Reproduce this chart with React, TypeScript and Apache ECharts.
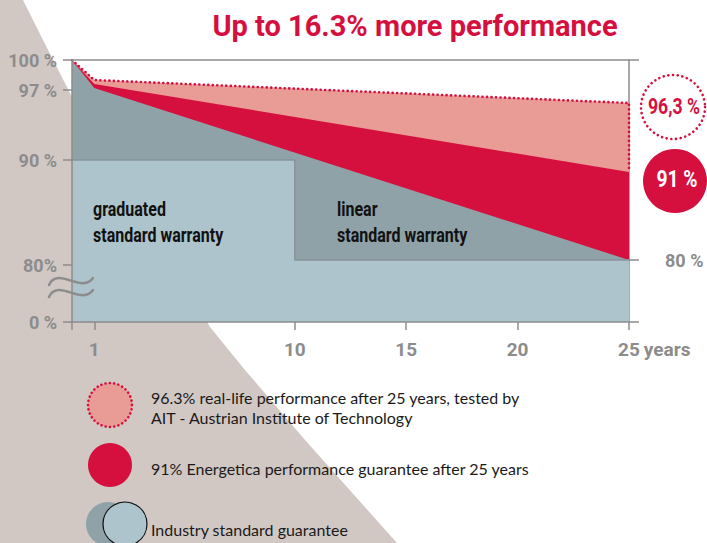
import React, { useEffect, useRef } from 'react';
import * as echarts from 'echarts';

// ---- data ----
const xTickYears = [0, 1, 10, 15, 20, 25];
const xLabelYears = [1, 10, 15, 20, 25];
const realLifeLine = [[0, 100], [1, 98.0], [25, 95.7], [25, 88.8]];
const energeticaLine = [[0, 100], [1, 97.6], [25, 88.8]];
const linearWarranty = [[0, 100], [1, 97.2], [25, 80]];
const graduatedWarranty = [[0, 90], [10, 90], [10, 80], [25, 80]];
const yTickValues = [73.8, 79.5, 90, 97, 100];
const yTickLabels = ['0 %', '80%', '90 %', '97 %', '100 %'];
const rightTickValues = [73.8, 80, 100];
const rightLabelValues = [80];
const rightLabelTexts = ['80 %'];

const RED = '#d5103f';
const PINK = '#e99b95';
const DARK = '#8fa2a8';
const LIGHT = '#adc4cc';
const GRAY = '#8c8c8c';
const BEIGE = '#d1c8c4';
const COND = 'Roboto, sans-serif';
const BODY = 'Lato, "Open Sans", sans-serif';

const nearestLabel = (v: number, vals: number[], labels: string[]) => {
  let bi = 0;
  vals.forEach((x, i) => { if (Math.abs(x - v) < Math.abs(vals[bi] - v)) bi = i; });
  return labels[bi];
};

export default function App() {
  const ref = useRef<HTMLDivElement>(null);
  useEffect(() => {
    if (!ref.current) return;
    const chart = echarts.init(ref.current, undefined, { renderer: 'svg' });
    const axisLine = { show: true, onZero: false, lineStyle: { color: GRAY, width: 1.5 } };
    const lblStyle = { color: GRAY, fontSize: 18, fontWeight: 'bold' as const, fontFamily: COND };
    chart.setOption({
      animation: false,
      backgroundColor: '#ffffff',
      title: {
        text: 'Up to 16.3% more performance',
        left: 410, top: 6, textAlign: 'center',
        textStyle: { color: RED, fontSize: 29, fontWeight: 'bold', fontFamily: 'Roboto, sans-serif' },
      },
      grid: { left: 72, right: 78, top: 60, bottom: 221, containLabel: false, outerBoundsMode: 'none' },
      xAxis: [
        {
          type: 'value', min: 0, max: 25, position: 'bottom', z: 10,
          axisLine,
          axisTick: { show: true, customValues: xTickYears, length: 8, lineStyle: { color: GRAY, width: 1.5 } },
          axisLabel: { show: true, customValues: xLabelYears, margin: 18, ...lblStyle, fontSize: 19 },
          splitLine: { show: false },
          name: 'years', nameLocation: 'end', nameGap: 14,
          nameTextStyle: { ...lblStyle, fontSize: 19, verticalAlign: 'top', align: 'left', padding: [18, 0, 0, 0] },
        },
        {
          type: 'value', min: 0, max: 25, position: 'top', z: 10,
          axisLine, axisTick: { show: false }, axisLabel: { show: false }, splitLine: { show: false },
        },
      ],
      yAxis: [
        {
          type: 'value', min: 73.8, max: 100, position: 'left', z: 10,
          axisLine,
          axisTick: { show: true, customValues: yTickValues, length: 9, lineStyle: { color: GRAY, width: 1.5 } },
          axisLabel: {
            show: true, customValues: yTickValues, margin: 15, ...lblStyle,
            padding: [8, 0, 0, 0],
            formatter: (v: number) => nearestLabel(v, yTickValues, yTickLabels),
          },
          splitLine: { show: false },
        },
        {
          type: 'value', min: 73.8, max: 100, position: 'right', z: 1,
          axisLine,
          axisTick: { show: true, customValues: rightTickValues, length: 10, lineStyle: { color: GRAY, width: 1.5 } },
          axisLabel: {
            show: true, customValues: rightLabelValues, margin: 36, ...lblStyle,
            padding: [4, 0, 0, 0],
            formatter: (v: number) => nearestLabel(v, rightLabelValues, rightLabelTexts),
          },
          splitLine: { show: false },
        },
      ],
      series: [
        {
          name: 'real-life', type: 'line', data: realLifeLine, symbol: 'none', z: 2,
          lineStyle: { width: 0 }, areaStyle: { color: PINK, opacity: 1, origin: 'start' },
        },
        {
          name: 'energetica', type: 'line', data: energeticaLine, symbol: 'none', z: 3,
          lineStyle: { width: 0 }, areaStyle: { color: RED, opacity: 1, origin: 'start' },
        },
        {
          name: 'linear', type: 'line', data: linearWarranty, symbol: 'none', z: 4,
          lineStyle: { width: 0 }, areaStyle: { color: DARK, opacity: 1, origin: 'start' },
        },
        {
          name: 'graduated', type: 'line', data: graduatedWarranty, symbol: 'none', z: 5,
          lineStyle: { color: '#87949a', width: 1.5 }, areaStyle: { color: LIGHT, opacity: 1, origin: 'start' },
        },
        {
          name: 'real-life line', type: 'line', data: realLifeLine, symbol: 'none', z: 6,
          lineStyle: { color: RED, width: 2.6, type: [0.1, 4.4], cap: 'round' },
        },
      ],
      graphic: [
        {
          type: 'polygon', z: -10, silent: true,
          shape: { points: [[0, 0], [23, 0], [43, 40], [72, 97], [140, 205], [210, 327], [245, 370], [305, 440], [397, 543], [0, 543]] },
          style: { fill: BEIGE },
        },
        // axis break waves
        {
          type: 'bezierCurve', z: 20,
          shape: { x1: 49, y1: 285, cpx1: 58, cpy1: 266, cpx2: 82, cpy2: 294, x2: 93, y2: 278 },
          style: { stroke: GRAY, lineWidth: 2.5, fill: 'none', lineCap: 'round' },
        },
        {
          type: 'bezierCurve', z: 20,
          shape: { x1: 49, y1: 297, cpx1: 58, cpy1: 278, cpx2: 82, cpy2: 306, x2: 93, y2: 290 },
          style: { stroke: GRAY, lineWidth: 2.5, fill: 'none', lineCap: 'round' },
        },
        // region labels
        {
          type: 'text', z: 20, x: 93, y: 222, scaleX: 0.8,
          style: { text: 'graduated\nstandard warranty', fill: '#111', font: `bold 20px ${COND}`, lineHeight: 26, verticalAlign: 'middle' },
        },
        {
          type: 'text', z: 20, x: 337, y: 222, scaleX: 0.8,
          style: { text: 'linear\nstandard warranty', fill: '#111', font: `bold 20px ${COND}`, lineHeight: 26, verticalAlign: 'middle' },
        },
        // right badges
        {
          type: 'circle', z: 20, shape: { cx: 673, cy: 107, r: 32 },
          style: { fill: '#fff', stroke: RED, lineWidth: 2.6, lineDash: [0.1, 4.6], lineCap: 'round' },
        },
        {
          type: 'text', z: 21, x: 674, y: 107, scaleX: 0.8,
          style: { text: '96,3 %', fill: RED, font: `bold 22px ${COND}`, align: 'center', verticalAlign: 'middle' },
        },
        {
          type: 'circle', z: 20, shape: { cx: 675, cy: 181, r: 32 },
          style: { fill: RED },
        },
        {
          type: 'text', z: 21, x: 677, y: 179, scaleX: 0.8,
          style: { text: '91 %', fill: '#fff', font: `bold 24px ${COND}`, align: 'center', verticalAlign: 'middle' },
        },
        // legend
        {
          type: 'circle', z: 20, shape: { cx: 110, cy: 405, r: 22 },
          style: { fill: PINK, stroke: RED, lineWidth: 2.6, lineDash: [0.1, 4.2], lineCap: 'round' },
        },
        {
          type: 'text', z: 20, x: 151, y: 407,
          style: { text: '96.3% real-life performance after 25 years, tested by\nAIT - Austrian Institute of Technology', fill: '#1a1a1a', font: `16px ${BODY}`, lineHeight: 20, verticalAlign: 'middle' },
        },
        {
          type: 'circle', z: 20, shape: { cx: 110, cy: 465, r: 22 },
          style: { fill: RED },
        },
        {
          type: 'text', z: 20, x: 151, y: 468,
          style: { text: '91% Energetica performance guarantee after 25 years', fill: '#1a1a1a', font: `16px ${BODY}`, verticalAlign: 'middle' },
        },
        {
          type: 'circle', z: 20, shape: { cx: 108, cy: 524, r: 22 },
          style: { fill: DARK },
        },
        {
          type: 'circle', z: 21, shape: { cx: 125, cy: 524, r: 22 },
          style: { fill: LIGHT, stroke: '#111', lineWidth: 1.2 },
        },
        {
          type: 'text', z: 22, x: 151, y: 529,
          style: { text: 'Industry standard guarantee', fill: '#1a1a1a', font: `16px ${BODY}`, verticalAlign: 'middle' },
        },
      ],
    });
    return () => chart.dispose();
  }, []);
  return <div ref={ref} style={{ position: 'absolute', left: 0, top: 0, width: 707, height: 543 }} />;
}
